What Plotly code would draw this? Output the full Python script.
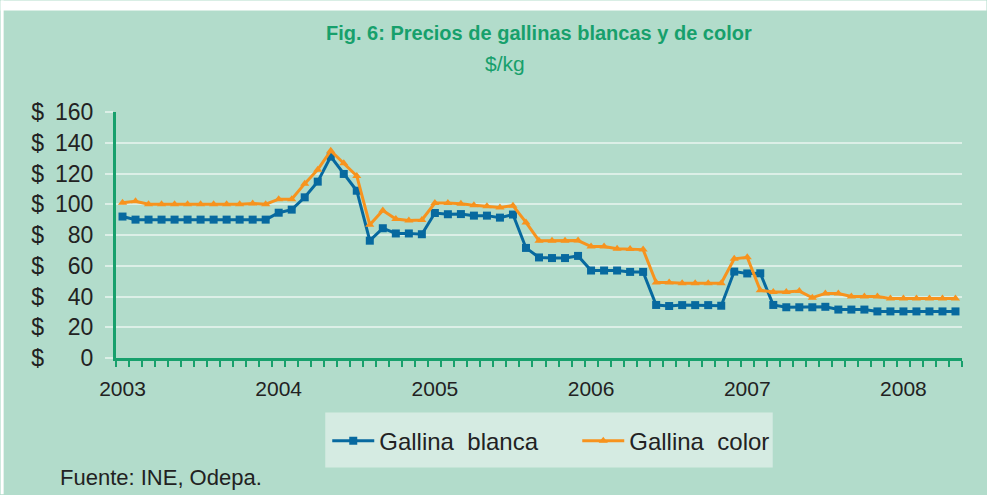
import plotly.graph_objects as go

# ---- data (monthly, Jan 2003 .. May 2008) ----
years = ["2003", "2004", "2005", "2006", "2007", "2008"]
gallina_blanca = [
    92, 90, 90, 90, 90, 90, 90, 90, 90, 90, 90, 90,                       # 2003
    94.5, 96.5, 104.5, 114.7, 131, 119.7, 108.8, 76.3, 84.4, 81, 81, 80.5,  # 2004
    94.3, 93.5, 93.6, 92.6, 92.6, 91.3, 93.3, 71.6, 65.4, 65, 65, 66.4,     # 2005
    56.9, 56.9, 56.9, 56, 56, 34.5, 33.8, 34.4, 34.4, 34.4, 34, 56.2,       # 2006
    55, 55.1, 34.5, 33, 33, 33, 33.3, 31.5, 31.5, 31.5, 30.3, 30.3,         # 2007
    30.3, 30.3, 30.3, 30.3, 30.3,                                           # 2008
]
gallina_color = [
    101, 102, 100, 100, 100, 100, 100, 100, 100, 100, 100.5, 100,           # 2003
    103.3, 103.2, 113.4, 122.5, 134.8, 126.6, 118.4, 86.6, 96, 90.4, 89.4, 89.8,  # 2004
    100.8, 100.8, 100.3, 99.3, 98.7, 97.9, 99.1, 88.2, 76.3, 76.3, 76.3, 76.4,    # 2005
    72.5, 72.5, 71, 70.9, 70.5, 49.1, 49.1, 48.6, 48.6, 48.6, 48.6, 64.5,   # 2006
    65.5, 44, 43, 43, 43.5, 39.2, 42, 42, 40, 40, 40, 38.7,                 # 2007
    38.7, 38.7, 38.7, 38.7, 38.7,                                           # 2008
]
y_ticks = [0, 20, 40, 60, 80, 100, 120, 140, 160]
SP = "\u00a0\u2009"      # gap between "$" and the number
FS = "\u2007"            # figure space (digit width)
y_tick_labels = ["$" + SP + FS + FS + "0", "$" + SP + FS + "20", "$" + SP + FS + "40",
                 "$" + SP + FS + "60", "$" + SP + FS + "80",
                 "$" + SP + "100", "$" + SP + "120", "$" + SP + "140", "$" + SP + "160"]
title_text = "Fig. 6: Precios de gallinas blancas y de color"
subtitle_text = "$/kg"
source_text = "Fuente: INE, Odepa."
series_names = ["Gallina\u00a0 blanca", "Gallina\u00a0 color"]

months = list(range(len(gallina_blanca)))
year_pos = [12 * i for i in range(len(years))]

# ---- style ----
BG = "#b2dccb"
GRID = "#dcefe7"
GREEN = "#17a06c"
BLUE = "#07699f"
ORANGE = "#f7931e"
W, H = 987, 495
L, R, T, B = 115.5, 24.5, 111.7, 136.7
pw, ph = W - L - R, H - T - B

def px_x(x):
    return (x - L) / pw

def px_y(y):
    return 1 + (T - y) / ph

fig = go.Figure()
fig.add_trace(go.Scatter(
    x=months, y=gallina_blanca, name=series_names[0], mode="lines+markers",
    line=dict(color=BLUE, width=3), marker=dict(symbol="square", size=8, color=BLUE)))
fig.add_trace(go.Scatter(
    x=months, y=gallina_color, name=series_names[1], mode="lines+markers",
    line=dict(color=ORANGE, width=3), marker=dict(symbol="triangle-up", size=8, color=ORANGE)))

font_main = "Liberation Sans, Arial, sans-serif"

fig.update_layout(
    width=W, height=H,
    margin=dict(l=L, r=R, t=T, b=B, pad=0),
    paper_bgcolor=BG, plot_bgcolor=BG,
    showlegend=True,
    legend=dict(orientation="h", x=px_x(327), xanchor="left", y=px_y(419), yanchor="top",
                bgcolor="rgba(0,0,0,0)", font=dict(family=font_main, size=24, color="#222222"),
                entrywidth=193, itemwidth=42),
    font=dict(family=font_main, color="#222222"),
)
fig.update_xaxes(
    range=[-0.5, len(months) - 0.5], tickvals=year_pos, ticktext=years,
    ticks="", showgrid=False, zeroline=False,
    showline=True, linecolor=GREEN, linewidth=3,
    ticklabelstandoff=10,
    tickfont=dict(family=font_main, size=21, color="#222222"),
    minor=dict(tick0=-0.5, dtick=1, ticks="outside", ticklen=6, tickcolor=GREEN, tickwidth=2, showgrid=False),
)
fig.update_yaxes(
    range=[0, 160], tickvals=y_ticks, ticktext=y_tick_labels,
    showgrid=True, gridcolor=GRID, gridwidth=2, zeroline=False,
    showline=True, linecolor=GREEN, linewidth=3,
    ticks="outside", ticklen=8, tickcolor=GRID, tickwidth=2,
    ticklabelstandoff=7,
    tickfont=dict(family=font_main, size=23, color="#222222"),
)

fig.add_annotation(text="<b>" + title_text + "</b>", xref="paper", yref="paper",
                   x=0.5, y=px_y(33), xanchor="center", yanchor="middle", showarrow=False,
                   font=dict(family=font_main, size=20, color=GREEN))
fig.add_annotation(text=subtitle_text, xref="paper", yref="paper",
                   x=px_x(505), y=px_y(63), xanchor="center", yanchor="middle", showarrow=False,
                   font=dict(family=font_main, size=21, color=GREEN))
fig.add_annotation(text=source_text, xref="paper", yref="paper",
                   x=px_x(57), y=px_y(478), xanchor="left", yanchor="middle", showarrow=False,
                   font=dict(family=font_main, size=22, color="#222222"))

# legend panel
fig.add_shape(type="rect", xref="paper", yref="paper", layer="below",
              x0=px_x(325), x1=px_x(773), y0=px_y(468), y1=px_y(413),
              fillcolor="#d5ebe2", line=dict(width=0))
# white page border around the green panel
fig.add_shape(type="rect", xref="paper", yref="paper", layer="below",
              x0=px_x(0), x1=px_x(W), y0=px_y(10), y1=px_y(0),
              fillcolor="white", line=dict(width=0))
fig.add_shape(type="rect", xref="paper", yref="paper", layer="below",
              x0=px_x(0), x1=px_x(3), y0=px_y(H), y1=px_y(0),
              fillcolor="white", line=dict(width=0))

fig.write_html("out.html", config={"displayModeBar": False},
               post_script="document.body.style.margin='0';")
